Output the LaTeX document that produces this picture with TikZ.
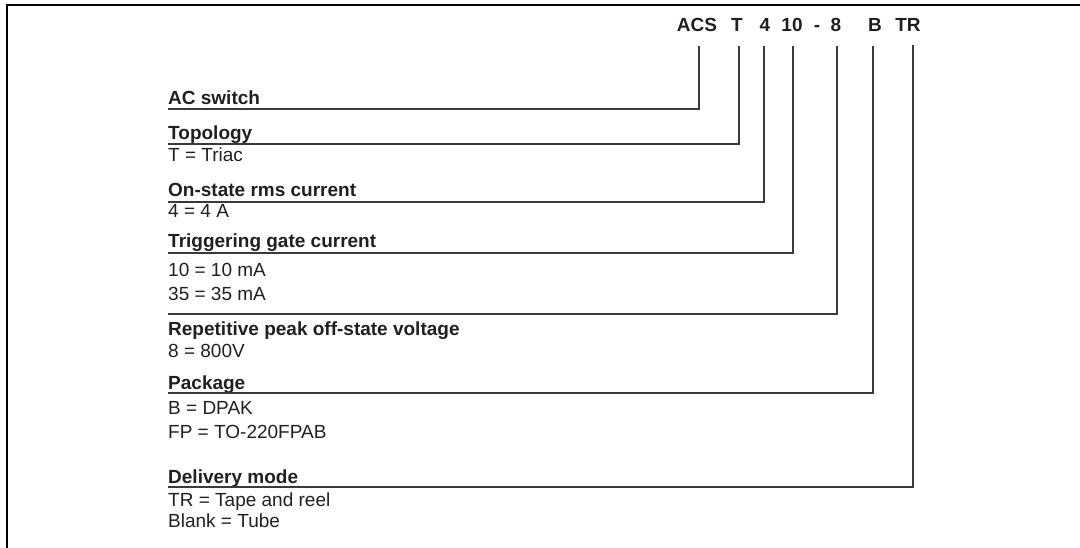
\documentclass[tikz,border=0pt]{standalone}
\usepackage{fontspec}
\setmainfont{Liberation Sans}
\definecolor{ink}{HTML}{231F20}
\definecolor{wirec}{HTML}{3A3A3A}
\tikzset{
 codepart/.style={font=\fontsize{19}{23}\selectfont\bfseries, text=ink, inner sep=0pt, anchor=base},
 headtext/.style={font=\fontsize{19}{23}\selectfont\bfseries, text=ink, inner sep=0pt, anchor=base west},
 valtext/.style={font=\fontsize{19}{23}\selectfont, text=ink, inner sep=0pt, anchor=base west},
 wireline/.style={draw=wirec, line width=1.4pt},
 frameline/.style={draw=black, line width=2.2pt}
}
\begin{document}
\begin{tikzpicture}[x=1pt,y=-1pt]
\useasboundingbox (0,0) rectangle (1080,548);
\draw[frameline] (7,548) -- (7,5) -- (1080,5);

% code parts
\node[codepart] (cACS) at (697,32) {ACS};
\node[codepart] (cT) at (737,32) {T};
\node[codepart] (c4) at (765,32) {4};
\node[codepart] (c10) at (792,32) {10};
\node[codepart] (cdash) at (817,32) {-};
\node[codepart] (c8) at (836,32) {8};
\node[codepart] (cB) at (875,32) {B};
\node[codepart] (cTR) at (908,32) {TR};

\coordinate (tACS) at (699,46);
\coordinate (tT) at (739,46);
\coordinate (t4) at (764,46);
\coordinate (t10) at (793,46);
\coordinate (t8) at (837,46);
\coordinate (tB) at (873,46);
\coordinate (tTR) at (913,45);

% headings and values
\node[headtext] (hAC) at (168,105) {AC switch};
\coordinate (lAC) at (168,109);

\node[headtext] (hTop) at (168,140) {Topology};
\coordinate (lTop) at (168,144);
\node[valtext] (vTop) at (168,162) {T = Triac};

\node[headtext] (hOn) at (168,197) {On-state rms current};
\coordinate (lOn) at (168,202);
\node[valtext] (vOn) at (168,218) {4 = 4 A};

\node[headtext] (hTrig) at (168,248) {Triggering gate current};
\coordinate (lTrig) at (168,253);
\node[valtext] (vTrig1) at (168,277) {10 = 10 mA};
\node[valtext] (vTrig2) at (168,301) {35 = 35 mA};

\coordinate (lRep) at (168,314);
\node[headtext] (hRep) at (168,336) {Repetitive peak off-state voltage};
\node[valtext] (vRep) at (168,358) {8 = 800V};

\node[headtext] (hPkg) at (168,389) {Package};
\coordinate (lPkg) at (168,393);
\node[valtext] (vPkg1) at (168,414) {B = DPAK};
\node[valtext] (vPkg2) at (168,438) {FP = TO-220FPAB};

\node[headtext] (hDel) at (168,483) {Delivery mode};
\coordinate (lDel) at (168,487);
\node[valtext] (vDel1) at (168,506) {TR = Tape and reel};
\node[valtext] (vDel2) at (168,527) {Blank = Tube};

% connectors
\draw[wireline] (lAC) -| (tACS);
\draw[wireline] (lTop) -| (tT);
\draw[wireline] (lOn) -| (t4);
\draw[wireline] (lTrig) -| (t10);
\draw[wireline] (lRep) -| (t8);
\draw[wireline] (lPkg) -| (tB);
\draw[wireline] (lDel) -| (tTR);
\end{tikzpicture}
\end{document}
